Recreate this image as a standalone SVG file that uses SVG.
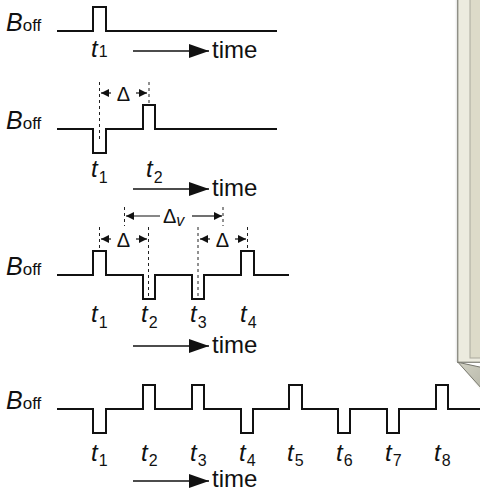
<svg xmlns="http://www.w3.org/2000/svg" width="480" height="492" viewBox="0 0 480 492">
  <style>
    .wave { fill: none; stroke: #111; stroke-width: 2; stroke-linejoin: miter; }
    .dash { fill: none; stroke: #222; stroke-width: 1; stroke-dasharray: 3 3; }
    .dim { fill: none; stroke: #111; stroke-width: 1.2; }
    .arr { fill: none; stroke: #111; stroke-width: 1.6; }
    .lbl { font-family: "Liberation Sans", Arial, sans-serif; fill: #111; }
    .it { font-style: italic; }
    .B { font-size: 25px; font-style: italic; }
    .sub { font-size: 17px; font-style: normal; }
    .t { font-size: 24px; font-style: italic; }
    .n { font-size: 16px; font-style: normal; }
    .time { font-size: 24px; }
    .delta { font-size: 20px; }
  </style>
  <defs>
    <marker id="timeHead" viewBox="0 0 20 14" refX="20" refY="7" markerWidth="20" markerHeight="14" markerUnits="userSpaceOnUse" orient="auto">
      <path d="M0,0 L20,7 L0,14 z" fill="#111"/>
    </marker>
    <marker id="small" viewBox="0 0 8 8" refX="8" refY="4" markerWidth="8" markerHeight="8" markerUnits="userSpaceOnUse" orient="auto">
      <path d="M0,0 L8,4 L0,8 z" fill="#111"/>
    </marker>
    <linearGradient id="edgeShade" x1="0" x2="1" y1="0" y2="0">
      <stop offset="0" stop-color="#fff" stop-opacity="0"/>
      <stop offset="1" stop-color="#999" stop-opacity="0.5"/>
    </linearGradient>
    <linearGradient id="foldShade" x1="0" y1="0" x2="1" y2="1">
      <stop offset="0" stop-color="#d2d2c4"/>
      <stop offset="1" stop-color="#b8b8aa"/>
    </linearGradient>
  </defs>

  <!-- note sheet at the right edge -->
  <g id="note">
    <rect x="454" y="-2" width="4" height="364" fill="url(#edgeShade)"/>
    <rect x="457.7" y="-2" width="30" height="364.3" fill="#ecebdf" stroke="#8f8f86" stroke-width="1.4"/>
    <rect x="470" y="-2" width="20" height="360" fill="#dddbc9" stroke="#aaa99d" stroke-width="1"/>
    <path d="M458,362.3 L482,367.5 L482,392 Z" fill="#eeeee8" opacity="0.6"/>
    <path d="M458,362.3 L482,367.5 L482,389 Z" fill="url(#foldShade)" stroke="#77776e" stroke-width="1"/>
  </g>

  <!-- row 1: single pulse -->
  <g id="row1">
    <text class="lbl B" x="6" y="31">B<tspan class="sub">off</tspan></text>
    <path class="wave" d="M57,31 H93 V7 H106 V31 H277"/>
    <text class="lbl t" x="91" y="57">t<tspan class="n" dx="1">1</tspan></text>
  </g>

  <!-- row 2: down/up pulse pair -->
  <g id="row2">
    <text class="lbl B" x="6" y="129">B<tspan class="sub">off</tspan></text>
    <path class="wave" d="M57,129 H93 V153 H106 V129 H143 V105 H155 V129 H277"/>
    <text class="lbl t" x="91" y="177">t<tspan class="n" dx="1" dy="6">1</tspan></text>
    <text class="lbl t" x="146" y="177">t<tspan class="n" dx="1" dy="6">2</tspan></text>
  </g>

  <!-- row 3: four pulses -->
  <g id="row3">
    <text class="lbl B" x="6" y="275">B<tspan class="sub">off</tspan></text>
    <path class="wave" d="M57,275 H93 V251 H106 V275 H143 V299 H155 V275 H192 V299 H204 V275 H241 V251 H254 V275 H289"/>
    <text class="lbl t" x="91" y="322">t<tspan class="n" dx="1" dy="6">1</tspan></text>
    <text class="lbl t" x="141" y="322">t<tspan class="n" dx="1" dy="6">2</tspan></text>
    <text class="lbl t" x="190" y="322">t<tspan class="n" dx="1" dy="6">3</tspan></text>
    <text class="lbl t" x="240" y="322">t<tspan class="n" dx="1" dy="6">4</tspan></text>
  </g>

  <!-- row 4: eight pulses -->
  <g id="row4">
    <text class="lbl B" x="6" y="409">B<tspan class="sub">off</tspan></text>
    <path class="wave" d="M57,409 H93 V433 H106 V409 H143 V385 H155 V409 H192 V385 H204 V409 H241 V433 H253 V409 H289 V385 H302 V409 H338 V433 H350 V409 H387 V433 H399 V409 H436 V385 H448 V409 H482"/>
    <text class="lbl t" x="91" y="461">t<tspan class="n" dx="1" dy="5">1</tspan></text>
    <text class="lbl t" x="141" y="461">t<tspan class="n" dx="1" dy="5">2</tspan></text>
    <text class="lbl t" x="190" y="461">t<tspan class="n" dx="1" dy="5">3</tspan></text>
    <text class="lbl t" x="239" y="461">t<tspan class="n" dx="1" dy="5">4</tspan></text>
    <text class="lbl t" x="287" y="461">t<tspan class="n" dx="1" dy="5">5</tspan></text>
    <text class="lbl t" x="336" y="461">t<tspan class="n" dx="1" dy="5">6</tspan></text>
    <text class="lbl t" x="385" y="461">t<tspan class="n" dx="1" dy="5">7</tspan></text>
    <text class="lbl t" x="434" y="461">t<tspan class="n" dx="1" dy="5">8</tspan></text>
  </g>

  <!-- time axes, marker lines and interval arrows -->
  <g id="connectors">
    <line class="arr" x1="133" y1="51" x2="209" y2="51" marker-end="url(#timeHead)"/>
    <line class="arr" x1="133" y1="189" x2="209" y2="189" marker-end="url(#timeHead)"/>
    <line class="arr" x1="133" y1="346" x2="209" y2="346" marker-end="url(#timeHead)"/>
    <line class="arr" x1="133" y1="481" x2="209" y2="481" marker-end="url(#timeHead)"/>

    <line class="dash" x1="99.5" y1="82" x2="99.5" y2="140"/>
    <line class="dash" x1="149" y1="82" x2="149" y2="104"/>
    <line class="dim" x1="111" y1="93" x2="101" y2="93" marker-end="url(#small)"/>
    <line class="dim" x1="136" y1="93" x2="147" y2="93" marker-end="url(#small)"/>

    <line class="dash" x1="99.5" y1="227" x2="99.5" y2="250"/>
    <line class="dash" x1="148.5" y1="227" x2="148.5" y2="298"/>
    <line class="dash" x1="198" y1="227" x2="198" y2="298"/>
    <line class="dash" x1="247.5" y1="227" x2="247.5" y2="250"/>
    <line class="dash" x1="124.5" y1="207" x2="124.5" y2="226"/>
    <line class="dash" x1="223" y1="207" x2="223" y2="226"/>
    <line class="dim" x1="111" y1="239" x2="101" y2="239" marker-end="url(#small)"/>
    <line class="dim" x1="136" y1="239" x2="147" y2="239" marker-end="url(#small)"/>
    <line class="dim" x1="210" y1="239" x2="200" y2="239" marker-end="url(#small)"/>
    <line class="dim" x1="235" y1="239" x2="246" y2="239" marker-end="url(#small)"/>
    <line class="dim" x1="160" y1="216" x2="126" y2="216" marker-end="url(#small)"/>
    <line class="dim" x1="192" y1="216" x2="222" y2="216" marker-end="url(#small)"/>

    <text class="lbl delta" x="123.5" y="101" text-anchor="middle">Δ</text>
    <text class="lbl delta" x="123.5" y="247" text-anchor="middle">Δ</text>
    <text class="lbl delta" x="222.5" y="247" text-anchor="middle">Δ</text>
    <text class="lbl delta" x="163" y="223">Δ<tspan class="it" font-size="16" dy="3">v</tspan></text>

    <text class="lbl time" x="212" y="58">time</text>
    <text class="lbl time" x="212" y="196">time</text>
    <text class="lbl time" x="212" y="353">time</text>
    <text class="lbl time" x="212" y="487" font-size="23">time</text>
  </g>
</svg>
